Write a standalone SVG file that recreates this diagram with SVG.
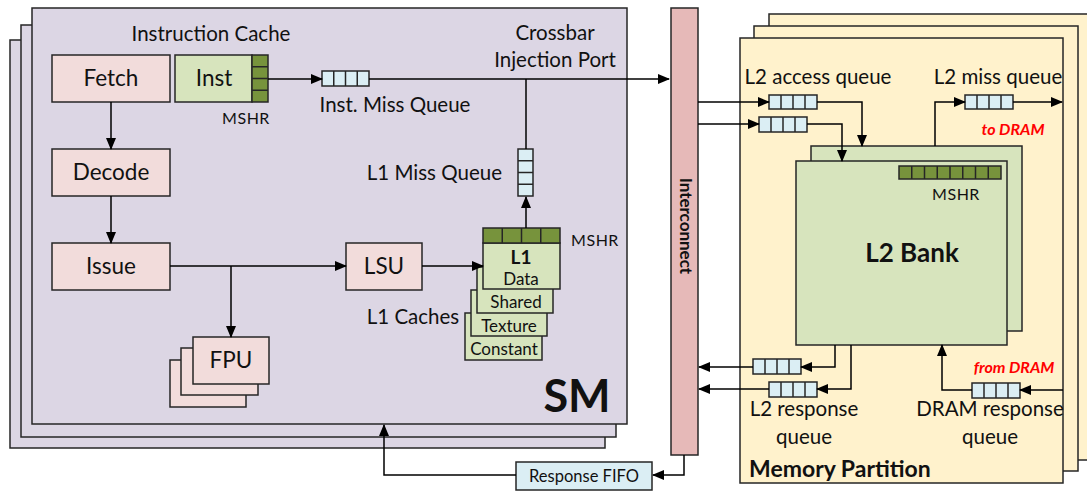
<svg xmlns="http://www.w3.org/2000/svg" width="1087" height="491" viewBox="0 0 1087 491">
  <defs>
    <marker id="arr" markerWidth="12" markerHeight="10" refX="11" refY="5" orient="auto" markerUnits="userSpaceOnUse">
      <path d="M0,0 L12,5 L0,10 Z" fill="#000"/>
    </marker>
    <style>
      text { font-family: Lato, "Open Sans", "Liberation Sans", sans-serif; fill: #111; }
      .box { stroke: #262626; stroke-width: 1.5; }
      .sm { fill: #DCD6E4; }
      .pink { fill: #F2DCDB; }
      .green { fill: #D7E4BD; }
      .mshr { fill: #77933C; }
      .q { fill: #DBEEF4; }
      .mp { fill: #FFF2CC; }
      .ic { fill: #E6B9B8; }
      .div { stroke: #262626; stroke-width: 1.5; }
      .wire { stroke: #000; stroke-width: 1.5; fill: none; }
      .lbl { font-size: 20.5px; }
      .blk { font-size: 22.5px; }
      .small { font-size: 17px; }
      .mshr-t { font-size: 16px; letter-spacing: 0.5px; }
      .red { font-size: 16px; font-weight: bold; font-style: italic; fill: #FF0000; }
      .mid { text-anchor: middle; }
    </style>
  </defs>

  <!-- SM stack -->
  <g id="sm">
    <rect class="box sm" x="10" y="40" width="595" height="408"/>
    <rect class="box sm" x="21" y="25" width="595" height="412"/>
    <rect class="box sm" x="32" y="8" width="595" height="416"/>
    <text x="577" y="412" class="mid" font-size="45" font-weight="bold">SM</text>
  </g>

  <g id="icache-label">
    <text x="211" y="41" class="lbl mid">Instruction Cache</text>
  </g>

  <g id="fetch">
    <rect class="box pink" x="52" y="55" width="118" height="47"/>
    <text x="111" y="86" class="blk mid">Fetch</text>
  </g>
  <g id="decode">
    <rect class="box pink" x="52" y="149" width="118" height="47"/>
    <text x="111" y="180" class="blk mid">Decode</text>
  </g>
  <g id="issue">
    <rect class="box pink" x="52" y="243" width="118" height="47"/>
    <text x="111" y="274" class="blk mid">Issue</text>
  </g>

  <g id="inst">
    <rect class="box green" x="175" y="55" width="77" height="47"/>
    <text x="214" y="86" class="blk mid">Inst</text>
    <rect class="box mshr" x="252" y="55" width="16" height="47"/>
    <line class="div" x1="252" y1="66.75" x2="268" y2="66.75"/>
    <line class="div" x1="252" y1="78.5" x2="268" y2="78.5"/>
    <line class="div" x1="252" y1="90.25" x2="268" y2="90.25"/>
    <text x="246" y="124" class="mshr-t mid">MSHR</text>
  </g>

  <g id="inst-miss-queue">
    <rect class="box q" x="322" y="71" width="47" height="15"/>
    <line class="div" x1="333.75" y1="71" x2="333.75" y2="86"/>
    <line class="div" x1="345.5" y1="71" x2="345.5" y2="86"/>
    <line class="div" x1="357.25" y1="71" x2="357.25" y2="86"/>
    <text x="395" y="112" class="lbl mid">Inst. Miss Queue</text>
  </g>

  <g id="crossbar-label">
    <text x="555" y="40" class="lbl mid">Crossbar</text>
    <text x="555" y="67" class="lbl mid">Injection Port</text>
  </g>

  <g id="l1-miss-queue">
    <rect class="box q" x="518" y="149" width="15" height="47"/>
    <line class="div" x1="518" y1="160.75" x2="533" y2="160.75"/>
    <line class="div" x1="518" y1="172.5" x2="533" y2="172.5"/>
    <line class="div" x1="518" y1="184.25" x2="533" y2="184.25"/>
    <text x="502" y="180" class="lbl" text-anchor="end">L1 Miss Queue</text>
  </g>

  <g id="lsu">
    <rect class="box pink" x="346" y="243" width="76" height="47"/>
    <text x="384" y="274" class="blk mid">LSU</text>
  </g>

  <g id="fpu">
    <rect class="box pink" x="170" y="360" width="76" height="47"/>
    <rect class="box pink" x="181" y="348" width="77" height="47"/>
    <rect class="box pink" x="193" y="337" width="76" height="47"/>
    <text x="231" y="368" class="blk mid">FPU</text>
  </g>

  <g id="l1-caches">
    <rect class="box green" x="465" y="313" width="77" height="47"/>
    <text x="504" y="355" class="small mid">Constant</text>
    <rect class="box green" x="471" y="290" width="76" height="46"/>
    <text x="509" y="332" class="small mid">Texture</text>
    <rect class="box green" x="477" y="267" width="76" height="46"/>
    <text x="516" y="308" class="small mid">Shared</text>
    <rect class="box green" x="483" y="243" width="77" height="46"/>
    <text x="521" y="264" font-size="19" font-weight="bold" class="mid">L1</text>
    <text x="521" y="285" class="small mid">Data</text>
    <rect class="box mshr" x="483" y="228" width="77" height="15"/>
    <line class="div" x1="502.25" y1="228" x2="502.25" y2="243"/>
    <line class="div" x1="521.5" y1="228" x2="521.5" y2="243"/>
    <line class="div" x1="540.75" y1="228" x2="540.75" y2="243"/>
    <text x="595" y="246" class="mshr-t mid">MSHR</text>
    <text x="413" y="324" class="lbl mid">L1 Caches</text>
  </g>

  <g id="response-fifo">
    <rect class="box q" x="516" y="462" width="136" height="28"/>
    <text x="584" y="482" font-size="16.5" class="mid">Response FIFO</text>
  </g>

  <g id="interconnect">
    <rect class="box ic" x="671" y="8" width="27" height="447"/>
    <text transform="translate(684,226) rotate(90)" font-size="17" font-weight="bold" class="mid" dominant-baseline="middle">Interconnect</text>
  </g>

  <!-- Memory partition stack -->
  <g id="memory-partition">
    <rect class="box mp" x="769" y="14" width="330" height="446"/>
    <rect class="box mp" x="754" y="26" width="324" height="445"/>
    <rect class="box mp" x="740" y="38" width="323" height="445"/>
    <text x="749" y="477" font-size="23" font-weight="bold">Memory Partition</text>
    <text x="818" y="84" class="lbl mid">L2 access queue</text>
    <text x="998" y="84" class="lbl mid">L2 miss queue</text>
    <text x="1013" y="135" class="red mid">to DRAM</text>
    <text x="1014" y="373" class="red mid">from DRAM</text>
    <text x="804" y="416" class="lbl mid">L2 response</text>
    <text x="804" y="444" class="lbl mid">queue</text>
    <text x="990" y="416" class="lbl mid">DRAM response</text>
    <text x="990" y="444" class="lbl mid">queue</text>
  </g>

  <g id="l2-bank">
    <rect class="box green" x="811" y="146" width="211" height="185"/>
    <rect class="box green" x="796" y="161" width="211" height="184"/>
    <rect class="box mshr" x="899" y="166" width="102" height="13"/>
    <line class="div" x1="911.75" y1="166" x2="911.75" y2="179"/>
    <line class="div" x1="924.5" y1="166" x2="924.5" y2="179"/>
    <line class="div" x1="937.25" y1="166" x2="937.25" y2="179"/>
    <line class="div" x1="950" y1="166" x2="950" y2="179"/>
    <line class="div" x1="962.75" y1="166" x2="962.75" y2="179"/>
    <line class="div" x1="975.5" y1="166" x2="975.5" y2="179"/>
    <line class="div" x1="988.25" y1="166" x2="988.25" y2="179"/>
    <text x="956" y="200" class="mshr-t mid">MSHR</text>
    <text x="912" y="262" font-size="26" font-weight="bold" class="mid">L2 Bank</text>
  </g>

  <g id="l2-access-queues">
    <rect class="box q" x="769" y="95" width="48" height="14"/>
    <line class="div" x1="781" y1="95" x2="781" y2="109"/>
    <line class="div" x1="793" y1="95" x2="793" y2="109"/>
    <line class="div" x1="805" y1="95" x2="805" y2="109"/>
    <rect class="box q" x="759" y="117" width="48" height="15"/>
    <line class="div" x1="771" y1="117" x2="771" y2="132"/>
    <line class="div" x1="783" y1="117" x2="783" y2="132"/>
    <line class="div" x1="795" y1="117" x2="795" y2="132"/>
  </g>

  <g id="l2-miss-queue">
    <rect class="box q" x="965" y="95" width="48" height="14"/>
    <line class="div" x1="977" y1="95" x2="977" y2="109"/>
    <line class="div" x1="989" y1="95" x2="989" y2="109"/>
    <line class="div" x1="1001" y1="95" x2="1001" y2="109"/>
  </g>

  <g id="l2-response-queues">
    <rect class="box q" x="753" y="359" width="48" height="15"/>
    <line class="div" x1="765" y1="359" x2="765" y2="374"/>
    <line class="div" x1="777" y1="359" x2="777" y2="374"/>
    <line class="div" x1="789" y1="359" x2="789" y2="374"/>
    <rect class="box q" x="769" y="382" width="48" height="15"/>
    <line class="div" x1="781" y1="382" x2="781" y2="397"/>
    <line class="div" x1="793" y1="382" x2="793" y2="397"/>
    <line class="div" x1="805" y1="382" x2="805" y2="397"/>
  </g>

  <g id="dram-response-queue">
    <rect class="box q" x="972" y="383" width="48" height="15"/>
    <line class="div" x1="984" y1="383" x2="984" y2="398"/>
    <line class="div" x1="996" y1="383" x2="996" y2="398"/>
    <line class="div" x1="1008" y1="383" x2="1008" y2="398"/>
  </g>

  <!-- connectors -->
  <g id="connectors">
    <line class="wire" x1="111" y1="102" x2="111" y2="149" marker-end="url(#arr)"/>
    <line class="wire" x1="111" y1="196" x2="111" y2="243" marker-end="url(#arr)"/>
    <line class="wire" x1="170" y1="266" x2="346" y2="266" marker-end="url(#arr)"/>
    <line class="wire" x1="231" y1="266" x2="231" y2="337" marker-end="url(#arr)"/>
    <line class="wire" x1="422" y1="266" x2="483" y2="266" marker-end="url(#arr)"/>
    <line class="wire" x1="268" y1="79" x2="322" y2="79" marker-end="url(#arr)"/>
    <line class="wire" x1="369" y1="79" x2="669" y2="79" marker-end="url(#arr)"/>
    <line class="wire" x1="526" y1="149" x2="526" y2="79"/>
    <line class="wire" x1="526" y1="228" x2="526" y2="197" marker-end="url(#arr)"/>
    <polyline class="wire" points="684,455 684,475 653,475" marker-end="url(#arr)"/>
    <polyline class="wire" points="516,475 384,475 384,425" marker-end="url(#arr)"/>
    <line class="wire" x1="698" y1="102" x2="769" y2="102" marker-end="url(#arr)"/>
    <line class="wire" x1="698" y1="124" x2="759" y2="124" marker-end="url(#arr)"/>
    <polyline class="wire" points="817,102 862,102 862,146" marker-end="url(#arr)"/>
    <polyline class="wire" points="807,124 842,124 842,161" marker-end="url(#arr)"/>
    <polyline class="wire" points="935,146 935,102 965,102" marker-end="url(#arr)"/>
    <line class="wire" x1="1013" y1="102" x2="1062" y2="102" marker-end="url(#arr)"/>
    <polyline class="wire" points="835,345 835,367 801,367" marker-end="url(#arr)"/>
    <polyline class="wire" points="851,345 851,389 817,389" marker-end="url(#arr)"/>
    <line class="wire" x1="753" y1="367" x2="699" y2="367" marker-end="url(#arr)"/>
    <line class="wire" x1="769" y1="389" x2="699" y2="389" marker-end="url(#arr)"/>
    <line class="wire" x1="1063" y1="390" x2="1020" y2="390" marker-end="url(#arr)"/>
    <polyline class="wire" points="972,390 942,390 942,345" marker-end="url(#arr)"/>
  </g>
</svg>
